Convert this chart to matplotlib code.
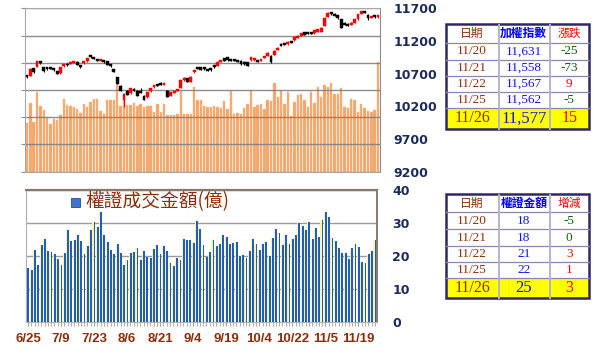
import matplotlib
matplotlib.use('Agg')
import matplotlib.pyplot as plt
from matplotlib.patches import Rectangle
import numpy as np

# ---------------- data ----------------
opens = [10670, 10669, 10780, 10806, 10875, 10800, 10775, 10780, 10765, 10735,
         10705, 10815, 10855, 10850, 10865, 10880, 10820, 10860, 10890, 10960,
         10950, 10905, 10895, 10910, 10895, 10835, 10770, 10644, 10517, 10299,
         10441, 10400, 10467, 10441, 10430, 10365, 10340, 10430, 10490, 10525,
         10545, 10530, 10441, 10365, 10405, 10440, 10480, 10600, 10630, 10570,
         10720, 10790, 10800, 10775, 10770, 10760, 10821, 10821, 10880, 10932,
         10948, 10907, 10900, 10897, 10897, 10882, 10872, 10907, 10907, 10907,
         10897, 10938, 10973, 10973, 10988, 11064, 11160, 11160, 11150, 11201,
         11211, 11246, 11282, 11332, 11332, 11328, 11320, 11343, 11343, 11430,
         11566, 11632, 11616, 11596, 11530, 11480, 11464, 11444, 11480, 11530,
         11616, 11650, 11600, 11555, 11570, 11560]
closes = [10650, 10770, 10725, 10887, 10862, 10740, 10765, 10772, 10750, 10695,
          10795, 10845, 10825, 10870, 10885, 10840, 10796, 10880, 10940, 10948,
          10930, 10895, 10910, 10872, 10840, 10815, 10730, 10542, 10441, 10396,
          10380, 10480, 10441, 10365, 10410, 10300, 10416, 10480, 10517, 10515,
          10530, 10550, 10350, 10416, 10430, 10467, 10600, 10640, 10570, 10655,
          10745, 10775, 10760, 10765, 10745, 10750, 10796, 10882, 10897, 10897,
          10907, 10900, 10897, 10882, 10846, 10846, 10821, 10948, 10938, 10882,
          10922, 10958, 11019, 10872, 11049, 11100, 11125, 11140, 11190, 11175,
          11262, 11282, 11317, 11297, 11307, 11312, 11365, 11378, 11404, 11556,
          11632, 11606, 11581, 11546, 11404, 11444, 11429, 11480, 11530, 11606,
          11656, 11631, 11558, 11567, 11562, 11577]
highs = [10685, 10780, 10790, 10895, 10880, 10805, 10785, 10790, 10772, 10740,
         10800, 10850, 10862, 10876, 10890, 10888, 10826, 10886, 10946, 10968,
         10956, 10912, 10916, 10915, 10900, 10840, 10775, 10650, 10522, 10405,
         10450, 10488, 10475, 10448, 10480, 10370, 10422, 10486, 10522, 10530,
         10570, 10556, 10448, 10422, 10436, 10472, 10606, 10646, 10636, 10660,
         10752, 10796, 10806, 10780, 10776, 10766, 10827, 10888, 10903, 10938,
         10954, 10912, 10906, 10902, 10902, 10888, 10878, 10955, 10944, 10912,
         10928, 10964, 11026, 10980, 11056, 11106, 11166, 11166, 11196, 11206,
         11268, 11288, 11323, 11338, 11338, 11334, 11371, 11384, 11410, 11562,
         11650, 11640, 11622, 11602, 11540, 11488, 11470, 11486, 11536, 11612,
         11662, 11658, 11606, 11573, 11575, 11583]
lows = [10640, 10660, 10715, 10800, 10850, 10730, 10755, 10765, 10740, 10688,
        10700, 10808, 10820, 10845, 10860, 10835, 10790, 10852, 10885, 10940,
        10925, 10888, 10890, 10866, 10835, 10808, 10722, 10535, 10430, 10188,
        10372, 10395, 10436, 10358, 10404, 10292, 10335, 10425, 10485, 10508,
        10524, 10525, 10345, 10360, 10400, 10435, 10475, 10595, 10565, 10565,
        10715, 10768, 10755, 10760, 10738, 10744, 10790, 10815, 10875, 10890,
        10900, 10894, 10890, 10876, 10840, 10840, 10815, 10901, 10901, 10876,
        10891, 10932, 10967, 10866, 10982, 11058, 11118, 11134, 11144, 11169,
        11205, 11240, 11276, 11291, 11301, 11306, 11314, 11337, 11337, 11424,
        11560, 11600, 11575, 11540, 11398, 11438, 11423, 11438, 11474, 11524,
        11610, 11625, 11520, 11550, 11555, 11553]
volume = [1073, 1513, 1095, 1756, 1447, 1359, 1205, 1051, 1161, 1139,
          1249, 1602, 1469, 1447, 1425, 1381, 1293, 1491, 1425, 1535,
          1602, 1602, 1337, 1271, 1580, 1580, 1580, 1910, 1447, 1580,
          1469, 1469, 1513, 1447, 1491, 1432, 1447, 1447, 1322, 1491,
          1322, 1491, 1249, 1249, 1249, 1271, 1784, 1264, 1264, 1271,
          1859, 1580, 1580, 1447, 1425, 1432, 1447, 1425, 1403, 1564,
          1381, 1784, 1271, 1300, 1271, 1403, 1491, 1800, 1425, 1469,
          1491, 1381, 1580, 1557, 1961, 1652, 1784, 1491, 1756, 1234,
          1535, 1690, 1712, 1580, 1419, 1762, 1507, 1873, 1652, 1910,
          1873, 1947, 1705, 1705, 1837, 1432, 1397, 1602, 1580, 1322,
          1485, 1410, 1337, 1309, 1359, 2423]
warrant = [16.2, 15.7, 21.8, 17.2, 23.3, 25.0, 21.5, 21.2, 20.5, 19.0,
           17.1, 21.0, 27.7, 24.4, 24.7, 26.3, 24.4, 20.6, 22.9, 27.7,
           30.2, 28.7, 33.3, 26.3, 24.2, 21.8, 20.6, 23.6, 21.0, 17.1,
           18.6, 20.8, 21.2, 22.3, 18.8, 21.6, 19.5, 19.2, 22.0, 23.3,
           20.6, 23.0, 21.5, 17.7, 16.9, 19.2, 18.6, 25.0, 24.8, 24.7,
           23.8, 30.6, 28.2, 23.3, 19.8, 21.3, 24.7, 23.0, 23.6, 26.2,
           25.6, 23.6, 24.0, 24.3, 19.9, 20.4, 19.2, 21.5, 25.0, 23.6,
           21.8, 23.6, 24.3, 19.9, 25.3, 28.2, 27.0, 23.3, 26.3, 23.7,
           25.0, 26.3, 29.9, 29.2, 27.7, 30.2, 25.0, 28.5, 25.6, 31.0,
           33.4, 31.9, 25.3, 24.4, 22.3, 21.0, 20.8, 19.1, 22.3, 23.6,
           22.6, 18.2, 17.8, 20.6, 21.6, 24.7]
xtick_pos = [0, 10, 20, 30, 40, 50, 60, 70, 80, 90, 100]
xtick_labels = ['6/25', '7/9', '7/23', '8/6', '8/21', '9/4', '9/19', '10/4', '10/22', '11/5', '11/19']
price_ticks = [9200, 9700, 10200, 10700, 11200, 11700]
warrant_ticks = [0, 10, 20, 30, 40]
legend_label = '權證成交金額(億)'

tbl_dates = ['11/20', '11/21', '11/22', '11/25', '11/26']
tbl1_header = ['日期', '加權指數', '漲跌']
tbl1_index = [11631, 11558, 11567, 11562, 11577]
tbl1_chg = [-25, -73, 9, -5, 15]
tbl2_header = ['日期', '權證金額', '增減']
tbl2_amt = [18, 18, 21, 22, 25]
tbl2_chg = [-5, 0, 3, 1, 3]

# ---------------- styling ----------------
CJK = ['Noto Sans CJK TC', 'DejaVu Sans']
NAVY = '#1B2A5C'
BROWN = '#8B2E0B'
W, H = 598, 357
fig = plt.figure(figsize=(W / 100, H / 100), dpi=100)


def px_axes(l, t, r, b):
    return fig.add_axes([l / W, 1 - b / H, (r - l) / W, (b - t) / H])


n = len(closes)
x = np.arange(n)

# ---- top panel: volume (hidden scale) + candles ----
axv = px_axes(25, 8.3, 380, 171.7)
axv.bar(x, volume, width=0.72, color='#F4A66A', edgecolor='#F7BE8E', linewidth=0.3, zorder=1)
axv.set_xlim(-0.6, n - 0.4)
axv.set_ylim(0, 3600)
axv.set_yticks(np.arange(0, 3601, 600))
axv.yaxis.grid(True, color='#808080', lw=1.0, alpha=0.9)
axv.set_axisbelow('line')
axv.tick_params(axis='y', left=False, labelleft=False, right=True, labelright=False,
                length=3, color='#909090')
axv.tick_params(axis='x', bottom=False, labelbottom=False)
for s in ['left', 'top', 'bottom']:
    axv.spines[s].set_color('#A8A8A8')
axv.spines['right'].set_color('#8C8C8C')

axp = axv.twinx()
axp.set_ylim(9200, 11700)
axp.set_yticks(price_ticks)
axp.tick_params(axis='y', length=0, pad=9.5, labelsize=9, labelcolor=NAVY)
for t in axp.get_yticklabels():
    t.set_fontweight('bold')
for s in axp.spines.values():
    s.set_visible(False)

o = np.array(opens); c = np.array(closes)
up = c >= o
col = np.where(up, '#FF0000', '#000000')
body_lo = np.minimum(o, c)
body_h = np.maximum(np.abs(c - o), 30)
axp.vlines(x, lows, highs, colors=col, lw=0.8, zorder=3)
axp.bar(x, body_h, bottom=body_lo, width=0.85, color=col, edgecolor=col, lw=0.3, zorder=4)

# ---- bottom panel: warrant turnover ----
axw = px_axes(26, 190, 377, 321.7)
axw.bar(x - 0.1, warrant, width=0.8, color='#FFF59A', edgecolor='none', zorder=2)
axw.bar(x + 0.12, warrant, width=0.55, color='#1E5CC8', edgecolor='none', zorder=3)
axw.set_xlim(-0.6, n - 0.4)
axw.set_ylim(0, 40)
axw.set_yticks(warrant_ticks)
axw.yaxis.grid(True, color='#9A9A9A', lw=1.0)
axw.set_axisbelow(True)
axw.yaxis.tick_right()
axw.tick_params(axis='y', length=0, pad=11, labelsize=9, labelcolor=NAVY)
for t in axw.get_yticklabels():
    t.set_fontweight('bold')
axw.set_xticks(xtick_pos)
axw.set_xticklabels(xtick_labels, family='Liberation Sans', fontweight='bold')
axw.set_xticks(x, minor=True)
axw.tick_params(axis='x', which='both', length=3, color='#A0A0A0', direction='out')
axw.tick_params(axis='x', which='major', pad=5, labelsize=9.5, labelcolor=BROWN)
axw.spines['top'].set_color('#857A6A'); axw.spines['top'].set_linewidth(1.6)
axw.spines['right'].set_color('#857A6A'); axw.spines['right'].set_linewidth(1.4)
axw.spines['left'].set_color('#B0B0B0')
axw.spines['bottom'].set_color('#B0B0B0')

# ---- overlay for legend + tables ----
ov = fig.add_axes([0, 0, 1, 1])
ov.set_xlim(0, W); ov.set_ylim(H, 0); ov.axis('off')

ov.add_patch(Rectangle((71, 197.5), 8.5, 9, facecolor='#3F73CC', edgecolor='#1F4F9F', lw=0.6))
ov.text(85, 202, legend_label, family=CJK, fontsize=13.5, color=BROWN, va='center', ha='left')


def draw_table(xe, ye, header, hcolors, col1, col2, col2_color, col3):
    x0, x1 = xe[0], xe[-1]
    ov.add_patch(Rectangle((x0, ye[-2]), x1 - x0, ye[-1] - ye[-2], facecolor='#FFFF00', edgecolor='none'))
    for yy in ye[1:-1]:
        ov.plot([x0, x1], [yy, yy], color='#8A86B0', lw=0.9)
    for xx in xe[1:-1]:
        ov.plot([xx - 0.8, xx - 0.8], [ye[0], ye[-1]], color='#B4B4CC', lw=0.7)
        ov.plot([xx + 0.8, xx + 0.8], [ye[0], ye[-1]], color='#B4B4CC', lw=0.7)
    ov.add_patch(Rectangle((x0, ye[0]), x1 - x0, ye[-1] - ye[0], fill=False, edgecolor='#2E2868', lw=1.8))
    cx = [(xe[i] + xe[i + 1]) / 2 for i in range(3)]
    hy = (ye[0] + ye[1]) / 2
    for j in range(3):
        ov.text(cx[j], hy, header[j], family=CJK, fontsize=8.5, color=hcolors[j],
                ha='center', va='center', fontweight='bold' if j == 1 else 'normal')
    nr = len(col1)
    for r in range(nr):
        cy = (ye[r + 1] + ye[r + 2]) / 2
        last = r == nr - 1
        fs = 11.5 if last else 9.5
        ov.text(cx[0], cy, col1[r], family='Liberation Serif', fontsize=fs, color=BROWN,
                ha='center', va='center')
        ov.text(cx[1], cy, col2[r], family='Liberation Serif', fontsize=fs + (0.5 if last else 0),
                color=col2_color, ha='center', va='center')
        v = col3[r]
        cc = '#FF0000' if v > 0 else '#0B5E0B'
        ov.text(cx[2], cy, str(v), family='Liberation Serif', fontsize=fs, color=cc,
                ha='center', va='center')


draw_table([446, 498.3, 549.3, 589.3], [24, 43, 59.5, 76, 92, 108, 128.5],
           tbl1_header, [BROWN, '#0000FF', '#FF0000'],
           tbl_dates, [f'{v:,}' for v in tbl1_index], '#1414E6', tbl1_chg)
draw_table([446, 498.3, 549.3, 589.3], [194, 212.3, 229.3, 246, 262.3, 278.3, 298.3],
           tbl2_header, [BROWN, '#0000FF', '#FF0000'],
           tbl_dates, [str(v) for v in tbl2_amt], '#1414E6', tbl2_chg)

fig.savefig('out.png', dpi=100)
